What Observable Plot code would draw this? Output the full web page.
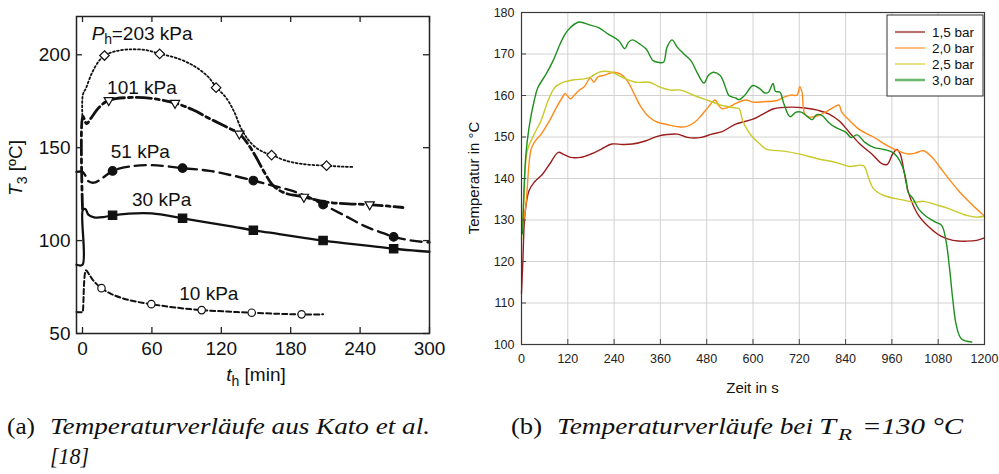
<!DOCTYPE html>
<html>
<head>
<meta charset="utf-8">
<script src="https://cdn.jsdelivr.net/npm/d3@7"></script>
<script src="https://cdn.jsdelivr.net/npm/@observablehq/plot@0.6"></script>
<style>
  html, body { margin: 0; padding: 0; background: #fff; }
  #wrap { position: relative; width: 999px; height: 474px; background: #fff; overflow: hidden; }
  #wrap svg { position: absolute; }
</style>
</head>
<body>
<div id="wrap"></div>
<script>
// ---------------- Panel (a): Kato et al. ----------------
const xTicksA = [0, 60, 120, 180, 240, 300];
const yTicksA = [50, 100, 150, 200];

// curves [t_h in min, T3 in °C]
const curve203 = [[0,165],[0.3,178.5],[3,182],[8,190],[14,196.5],[19,199.6],[28,201.8],[40,202.9],[55,202.5],[67,200.5],[80,198.5],[95,194.5],[108,188.5],[116,182.3],[124,177],[131,169.5],[137,160.5],[143,154.5],[150,150],[157,147.5],[164,146],[175,143.2],[190,141.2],[211,140.3],[225,139.8],[235,139.6]];
const curve101 = [[0,117],[0.3,167],[3.5,163],[8,166.5],[14,171.5],[22.7,175.5],[40,177],[60,176.5],[80,174],[95,170.5],[110,165.6],[125,161],[135.6,157.5],[143,152],[150,145],[157,137],[165,129.5],[175,125.6],[191.4,123.5],[210,120.8],[230,119.8],[248.3,119.4],[265,118.5],[277,117.8]];
const curve51 = [[-5.2,137],[0,137],[2,135.5],[5,132],[10,131.2],[18,134],[26,137.5],[40,139.8],[60,140.6],[86.5,139],[110,137.5],[130,135],[147.7,132.3],[165,129.5],[180,127],[195,123.5],[208,119.4],[225,114],[245,107.5],[260,104],[269,102],[285,100],[300,99]];
const curve30 = [[-5.2,87],[0,87],[0.3,116.5],[2.5,117],[5,114],[10,112.5],[18,112.6],[26,113.6],[40,114.5],[60,114.6],[86.5,112],[110,109.5],[130,107.5],[147.7,105.6],[170,103.5],[190,101.6],[208,100],[230,98.4],[250,97],[269,95.6],[285,94.7],[300,94]];
const curve10 = [[-5.2,61.6],[0,61.6],[0.3,62],[3,84],[6,81.5],[10,78],[16.4,74.4],[25,71.2],[40,68],[59.5,65.8],[80,64],[103,62.6],[125,61.8],[146.3,61.2],[170,60.6],[189.4,60.3],[208,60.3]];

// markers
const mark203 = [[19,199.6],[66.7,200.5],[115.5,182.3],[163.5,146],[211,140.3]];
const mark101 = [[22.7,175.5],[80,174],[135.6,157.5],[191.4,123.5],[248.3,119.4]];
const mark51  = [[26,137.5],[86.5,139],[147.7,132.3],[208,119.4],[269,102]];
const mark30  = [[26,113.6],[86.5,112],[147.7,105.6],[208,100],[269,95.6]];
const mark10  = [[16.4,74.4],[59.5,65.8],[103,62.6],[146.3,61.2],[189.4,60.3]];

// curve labels [x, y, text]
const labelsA = [[51.4,182.3,"101 kPa"],[50,147.7,"51 kPa"],[68.4,121.7,"30 kPa"],[109.2,71.5,"10 kPa"]];
const label203 = [[8.0,211.3]];

// ---------------- Panel (b): T_R = 130 °C ----------------
const xTicksB = [0,120,240,360,480,600,720,840,960,1080,1200];
const yTicksB = [100,110,120,130,140,150,160,170,180];
const seriesNames = ["1,5 bar","2,0 bar","2,5 bar","3,0 bar"];
const seriesColors = ["#9c1c1c","#ff8a1c","#c9c92a","#1f8f1f"];
const legendColors = ["#b87272","#ff9a3c","#d6d23e","#70b870"];
const legendWidths = [2.2,1.3,1.3,2.6];

const s15 = [[0,112.3],[3.6,120.3],[9,131.5],[19.6,137.1],[33,139.1],[55,141.1],[73,143.5],[95.5,146.3],[109,145.8],[127,145.1],[153.6,145.1],[180,145.9],[207,147.1],[234,148.3],[261,148.2],[287.5,148.3],[323,149.1],[350,150.1],[377,150.6],[404,150.7],[430,149.9],[466,149.9],[493,150.7],[520,151.3],[555,153.1],[600,154.3],[627,155.6],[653.6,156.8],[698,157.2],[734,157],[770,156.4],[796,155.6],[823,153.9],[850,151.1],[877,148.3],[908,145.9],[935,143.5],[948,143.4],[962,145.9],[973,147],[982,145.8],[991,141.9],[1004,136.3],[1029,131.1],[1056,128.3],[1087,126.1],[1118,125.1],[1154,124.9],[1180,125.1],[1200,125.7]];
const s20 = [[0,127],[10.7,133],[24,146.7],[33,148.7],[51,150.7],[73,154],[91,157.2],[109,160],[113,160.5],[127,159.2],[136,160],[149,161.2],[162.5,162.1],[178.6,164.2],[187.5,163.2],[198,164.5],[216,164.9],[238,165.6],[256,165.2],[274,163.6],[292,160.4],[310,157.2],[332,154.7],[354.5,153.5],[377,153],[404,152.5],[426,152.5],[448,153.5],[466,155.2],[484,157.2],[502,158.9],[511,157.6],[520,156.8],[537.5,157.2],[555,158.1],[582,158.9],[600,158.4],[627,158.5],[662.5,158.8],[680,159.6],[698,160.1],[714,160.1],[721,162.1],[727,160.8],[734,155.6],[747,154.8],[770,155.2],[787.5,156],[810,157.2],[823,157.7],[830,156],[850,154],[877,151.7],[912.5,150],[948,147.9],[975,146.7],[1002,145.9],[1020,146.1],[1042,146.7],[1064,145.1],[1091,141.9],[1136,136.7],[1200,130.9]];
const s25 = [[0,125.3],[6,134.7],[15,146.7],[33,150.7],[51,154],[69,158.8],[87,162],[109,163.2],[136,163.8],[162.5,164],[180,164.5],[203,165.7],[234,165.6],[261,164.4],[296,163.2],[332,163.2],[359,162],[386,161.3],[412.5,161.3],[448,160],[484,158.8],[520,157.6],[555,157],[564,156.8],[573,154],[587,151.5],[600,149.9],[618,148.3],[636,147],[680,146.6],[725,145.8],[770,144.7],[814,143.9],[850,142.9],[886,143.1],[899,140.3],[912.5,137.5],[939,135.9],[984,134.9],[1020,134.3],[1042,134.5],[1073,133.7],[1109,132.7],[1154,131.1],[1180,130.7],[1200,130.9]];
const s30 = [[3,126.7],[10.7,145],[19.6,152.3],[33,158.8],[42,161.8],[64,165.2],[82,168.4],[100,172.4],[113,174.8],[127,176.4],[149,177.7],[176,177],[198,176.4],[225,174.8],[252,173.2],[268,171.3],[277,172.8],[287.5,173.4],[305,172.5],[323,171.2],[341,168.4],[354,168],[368,168],[377,171.6],[390,173.4],[404,171.6],[421,170],[439,168.4],[457,165.2],[473,163],[484,164.8],[497,165.6],[515,164.8],[528.6,162],[537.5,160],[555,159.4],[564,159],[578,160],[600,162.4],[618,161.6],[631,160.6],[640,160.8],[652,162.9],[658,161],[670,160.8],[680,158],[696,154.9],[711.6,156],[725,156],[743,154.8],[753.6,154.2],[765,155.4],[778.6,155.2],[796,153.5],[814,152.3],[841,151.1],[854,149.9],[870,150.5],[890,148.7],[912.5,147.5],[939,147],[962,146.3],[975,145.1],[988,142.7],[997,139.5],[1002,136.7],[1015,135.1],[1029,132.7],[1046,131.1],[1073,129.5],[1089,128.7],[1100,125.1],[1109,118.7],[1118,110.7],[1127,104.6],[1140,101.4],[1167,100.6]];
const seriesB = [s15, s20, s25, s30];

const SANS = "'Liberation Sans', Arial, Helvetica, sans-serif";

// ---------------- build panel (a) ----------------
const WA = 452, HA = 390, mLA = 76, mRA = 23, mTA = 16, mBA = 57;
const pwA = WA - mLA - mRA, phA = HA - mTA - mBA;
const ink = "#111";
const FA = 19;
const lineA = (data, opts) => Plot.line(data, {x: d => d[0], y: d => d[1], stroke: ink, curve: "catmull-rom", ...opts});
const dotA = (data, opts) => Plot.dot(data, {x: d => d[0], y: d => d[1], stroke: ink, strokeWidth: 1.2, ...opts});

const plotA = Plot.plot({
  width: WA, height: HA, marginLeft: mLA, marginRight: mRA, marginTop: mTA, marginBottom: mBA,
  style: {fontFamily: SANS, fontSize: FA + "px", background: "transparent", color: "#111"},
  x: {domain: [-5.2, 300], ticks: xTicksA, tickSize: 0, tickPadding: 8, label: null, tickFormat: d => String(d)},
  y: {domain: [50, 220.6], ticks: yTicksA, tickSize: 0, tickPadding: 6, label: null, tickFormat: d => String(d)},
  marks: [
    lineA(curve203, {strokeWidth: 1.8, strokeDasharray: "1.8,2.4"}),
    lineA(curve101, {strokeWidth: 2.8, strokeDasharray: "15,4,4,4"}),
    lineA(curve51, {strokeWidth: 2.4, strokeDasharray: "11,6"}),
    lineA(curve30, {strokeWidth: 2.3}),
    lineA(curve10, {strokeWidth: 2, strokeDasharray: "5,3"}),
    dotA(mark203, {symbol: "diamond2", r: 4.3, fill: "white"}),
    dotA(mark101, {symbol: "triangle2", r: 4.4, fill: "white", rotate: 180}),
    dotA(mark51, {symbol: "circle", r: 4.3, fill: ink}),
    dotA(mark30, {symbol: "square", r: 4.7, fill: ink}),
    dotA(mark10, {symbol: "circle", r: 3.7, fill: "white"}),
    Plot.text(labelsA, {x: d => d[0], y: d => d[1], text: d => d[2], fontSize: FA, fill: ink}),
    Plot.text(label203, {x: d => d[0], y: d => d[1], text: () => "P", textAnchor: "start", fontSize: FA, fontStyle: "italic", fill: ink}),
    Plot.text(label203, {x: d => d[0], y: d => d[1], text: () => "h", textAnchor: "start", fontSize: 14, dx: 12.5, dy: 6, fill: ink}),
    Plot.text(label203, {x: d => d[0], y: d => d[1], text: () => "=203 kPa", textAnchor: "start", fontSize: FA, dx: 20, fill: ink}),
    Plot.tickX(xTicksA, {x: d => d, insetTop: phA - 6, stroke: "#222", strokeWidth: 1.3}),
    Plot.tickX(xTicksA, {x: d => d, insetBottom: phA - 6, stroke: "#222", strokeWidth: 1.3}),
    Plot.tickY(yTicksA, {y: d => d, insetRight: pwA - 6, stroke: "#222", strokeWidth: 1.3}),
    Plot.tickY(yTicksA, {y: d => d, insetLeft: pwA - 6, stroke: "#222", strokeWidth: 1.3}),
    Plot.frame({stroke: "#222", strokeWidth: 1.5})
  ]
});
plotA.style.left = "0px"; plotA.style.top = "0px";
document.getElementById("wrap").appendChild(plotA);

const sa = d3.select(plotA);
const yl = sa.append("text").attr("transform", "translate(22,168) rotate(-90)")
  .attr("text-anchor", "middle").attr("font-size", FA).attr("fill", ink).attr("font-family", SANS);
yl.append("tspan").attr("font-style", "italic").text("T");
yl.append("tspan").attr("font-size", 14).attr("dy", 5).text("3");
yl.append("tspan").attr("dy", -5).text(" [ºC]");
const xl = sa.append("text").attr("x", 256).attr("y", 381)
  .attr("text-anchor", "middle").attr("font-size", FA).attr("fill", ink).attr("font-family", SANS);
xl.append("tspan").attr("font-style", "italic").text("t");
xl.append("tspan").attr("font-size", 14).attr("dy", 5).text("h");
xl.append("tspan").attr("dy", -5).text(" [min]");

// ---------------- build panel (b) ----------------
const WB = 539, HB = 400, mLB = 61, mRB = 15, mTB = 12, mBB = 56;
const pwB = WB - mLB - mRB, phB = HB - mTB - mBB;
const plotB = Plot.plot({
  width: WB, height: HB, marginLeft: mLB, marginRight: mRB, marginTop: mTB, marginBottom: mBB,
  style: {fontFamily: SANS, fontSize: "12.5px", background: "transparent", color: "#222"},
  x: {domain: [0, 1200], ticks: xTicksB, tickSize: 0, tickPadding: 10, label: null, tickFormat: d => String(d)},
  y: {domain: [100, 180], ticks: yTicksB, tickSize: 0, tickPadding: 7, label: null, tickFormat: d => String(d)},
  marks: [
    Plot.gridX(xTicksB, {stroke: "#d2d2d2", strokeOpacity: 1, strokeWidth: 1}),
    Plot.gridY(yTicksB, {stroke: "#d2d2d2", strokeOpacity: 1, strokeWidth: 1}),
    ...seriesB.map((s, i) => Plot.line(s, {x: d => d[0], y: d => d[1], stroke: seriesColors[i], strokeWidth: 1.4, curve: "catmull-rom"})),
    Plot.tickX(xTicksB, {x: d => d, insetTop: phB - 5, stroke: "#444", strokeWidth: 1}),
    Plot.tickY(yTicksB, {y: d => d, insetRight: pwB - 5, stroke: "#444", strokeWidth: 1}),
    Plot.frame({stroke: "#3a3a3a", strokeWidth: 1.2})
  ]
});
plotB.style.left = "460px"; plotB.style.top = "0px";
document.getElementById("wrap").appendChild(plotB);

const sb = d3.select(plotB);
sb.append("text").attr("transform", "translate(13,178) rotate(-90)")
  .attr("text-anchor", "middle").attr("dominant-baseline", "central")
  .attr("font-size", 15).attr("fill", "#111").attr("font-family", SANS)
  .text("Temperatur in °C");
sb.append("text").attr("x", mLB + pwB / 2).attr("y", 387)
  .attr("text-anchor", "middle").attr("dominant-baseline", "central")
  .attr("font-size", 15).attr("fill", "#111").attr("font-family", SANS)
  .text("Zeit in s");
const lg = sb.append("g");
lg.append("rect").attr("x", 427).attr("y", 15).attr("width", 96).attr("height", 81)
  .attr("fill", "white").attr("stroke", "#333").attr("stroke-width", 1);
seriesNames.forEach((n, i) => {
  const yy = 32 + i * 16;
  lg.append("line").attr("x1", 435).attr("x2", 465).attr("y1", yy).attr("y2", yy)
    .attr("stroke", legendColors[i]).attr("stroke-width", legendWidths[i]);
  lg.append("text").attr("x", 472).attr("y", yy).attr("dominant-baseline", "central")
    .attr("text-anchor", "start")
    .attr("font-size", 13.5).attr("fill", "#111").attr("font-family", SANS)
    .text(n);
});

// ---------------- captions ----------------
const cap = d3.select("#wrap").append("svg").attr("width", 999).attr("height", 474)
  .style("left", "0px").style("top", "0px")
  .attr("font-family", "'Liberation Serif', 'Times New Roman', serif").attr("fill", "#111");
function ct(x, y, txt, len, italic, size) {
  cap.append("text").attr("x", x).attr("y", y).attr("font-size", size || 24)
    .attr("text-anchor", "start")
    .attr("font-style", italic ? "italic" : "normal")
    .attr("textLength", len).attr("lengthAdjust", "spacingAndGlyphs").text(txt);
}
ct(7, 434, "(a)", 28, false);
ct(50, 434, "Temperaturverläufe aus Kato et al.", 380, true);
ct(50, 464, "[18]", 39, true);
ct(511, 434, "(b)", 31, false);
ct(557, 434, "Temperaturverläufe bei", 256, true);
ct(819, 434, "T", 17, true);
ct(838, 440, "R", 14, true, 17);
ct(862, 434, "=130 °C", 101, true);
</script>
</body>
</html>
